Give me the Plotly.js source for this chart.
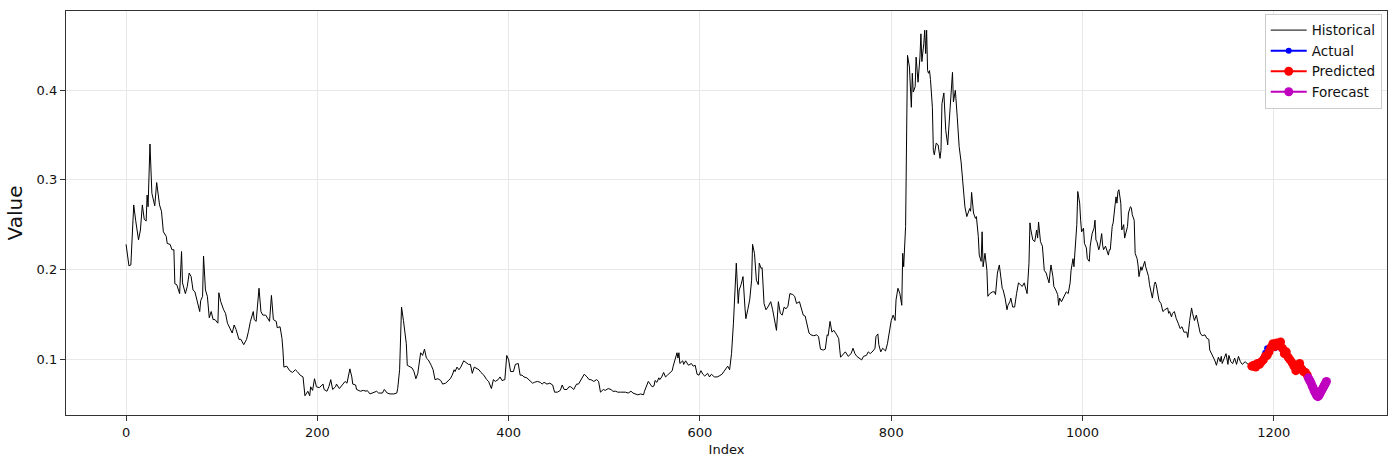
<!DOCTYPE html>
<html>
<head>
<meta charset="utf-8">
<script src="https://cdn.plot.ly/plotly-3.0.1.min.js"></script>
<style>html,body{margin:0;padding:0;background:#fff}#chart{width:1400px;height:474px}</style>
</head>
<body>
<div id="chart"></div>
<script>
var histIdx = [0,3,5,8,10,13,15,17,19,21,22,23,25,27,30,32,35,37,39,42,43,46,48,50,51,53,56,58,59,62,64,66,68,70,72,75,77,78,80,81,83,85,87,89,91,93,96,97,99,102,104,106,108,111,113,115,118,120,123,126,128,130,133,134,136,139,141,143,146,148,150,152,154,157,158,161,163,164,165,168,171,174,177,179,182,
185,186,187,190,192,193,195,197,199,202,206,207,210,212,214,216,219,220,223,226,229,231,234,236,237,240,241,245,248,251,252,255,258,262,264,268,270,273,276,280,283,284,286,287,288,290,293,294,297,299,301,303,305,307,308,310,312,314,316,319,321,323,326,329,331,334,336,339,341,343,344,346,348,350,353,356,358,360,362,364,366,369,371,374,377,379,382,384,386,389,391,393,396,398,400,402,405,407,410,412,
414,416,419,422,425,427,430,433,435,437,440,443,446,448,451,454,456,458,461,463,465,468,471,473,476,479,482,484,486,489,492,494,496,499,501,504,507,509,512,514,517,520,522,525,528,530,533,535,538,541,542,544,546,548,550,552,553,555,557,558,560,562,564,566,569,571,572,574,576,577,578,579,582,583,585,588,591,593,595,597,599,601,603,605,608,610,612,615,618,620,623,625,627,629,631,
633,635,638,640,641,643,645,647,648,650,652,654,655,657,659,661,662,664,665,667,669,671,674,676,678,680,682,684,686,688,690,692,694,697,699,701,704,706,708,710,712,714,716,719,722,724,726,729,731,733,734,736,738,740,743,745,747,750,752,755,758,760,762,764,767,769,771,774,776,778,781,783,784,786,787,789,791,794,796,798,800,802,804,805,807,809,811,812,813,815,816,817,819,820,821,822,823,825,826,828,829,830,831,832,834,835,836,837,838,839,840,841,843,844,845,847,849,851,852,853,855,857,859,861,863,864,865,867,869,871,873,
875,877,879,882,883,884,886,888,889,891,892,894,895,896,898,900,901,903,906,908,909,911,913,914,916,917,919,921,922,924,925,927,929,931,933,935,937,939,941,942,944,945,946,948,950,952,953,954,956,958,960,962,963,965,966,967,969,970,972,974,975,976,978,980,982,983,985,987,988,990,991,992,994,995,997,998,999,1001,1002,1004,1005,1007,1008,1010,1012,1013,1014,1015,1017,1018,1020,1021,1022,1024,1025,1027,1028,1029,1031,1032,1034,1035,1036,1037,1038,1040,1041,1043,1044,1045,1047,1048,1050,1051,1052,1054,1055,1057,1058,1059,1061,1062,1063,1065,1066,1068,1069,1070,1072,1073,1075,1076,1077,1079,1080,1082,1083,1084,1086,1089,1090,1091,1093,1094,1096,1097,1098,1100,1102,
1104,1106,1109,1110,1112,1114,1115,1117,1119,1121,1123,1125,1128,1130,1132,1133,1135,1138,1140,1142,1144,1145,1146,1148,1150,1152,1153,1155,1157,1159,1161,1163,1165,1167,1170,1172,1175,1177];
var histVal = [0.228,0.204,0.205,0.272,0.255,0.233,0.244,0.272,0.256,0.254,0.283,0.270,0.340,0.285,0.271,0.297,0.272,0.265,0.242,0.237,0.229,0.228,0.222,0.222,0.184,0.183,0.173,0.220,0.185,0.173,0.181,0.196,0.192,0.177,0.175,0.162,0.153,0.165,0.170,0.215,0.177,0.170,0.146,0.153,0.144,0.144,0.140,0.174,0.164,0.155,0.151,0.140,0.135,0.129,0.138,0.133,0.122,0.122,0.116,0.122,0.131,0.142,0.153,0.144,0.142,0.179,0.153,0.149,0.149,0.146,0.142,0.171,0.144,0.142,0.135,0.136,0.123,0.110,0.091,0.092,0.087,0.085,0.088,0.086,0.082,
0.080,0.069,0.059,0.064,0.059,0.069,0.065,0.078,0.069,0.068,0.072,0.066,0.064,0.069,0.077,0.066,0.069,0.072,0.067,0.071,0.075,0.073,0.089,0.080,0.072,0.071,0.066,0.064,0.065,0.064,0.065,0.061,0.062,0.064,0.062,0.062,0.066,0.062,0.061,0.061,0.062,0.067,0.088,0.117,0.158,0.143,0.117,0.093,0.091,0.090,0.086,0.078,0.084,0.099,0.107,0.104,0.111,0.101,0.099,0.093,0.088,0.077,0.078,0.076,0.072,0.073,0.075,0.078,0.082,0.088,0.086,0.091,0.088,0.091,0.098,0.096,0.094,0.094,0.084,0.091,0.090,0.088,0.085,0.082,0.077,0.075,0.067,0.077,0.075,0.077,0.080,0.076,0.077,0.104,0.099,0.086,0.086,0.094,0.095,0.082,
0.082,0.080,0.079,0.076,0.073,0.074,0.075,0.074,0.072,0.074,0.072,0.073,0.071,0.063,0.063,0.065,0.071,0.066,0.066,0.069,0.069,0.066,0.072,0.072,0.077,0.083,0.080,0.077,0.077,0.075,0.077,0.075,0.063,0.066,0.065,0.067,0.066,0.064,0.064,0.063,0.063,0.063,0.063,0.062,0.064,0.062,0.061,0.060,0.061,0.060,0.064,0.070,0.075,0.072,0.069,0.070,0.076,0.074,0.079,0.077,0.080,0.085,0.080,0.082,0.085,0.087,0.092,0.101,0.107,0.101,0.107,0.095,0.098,0.094,0.098,0.093,0.095,0.092,0.093,0.083,0.082,0.087,0.083,0.081,0.084,0.080,0.083,0.080,0.080,0.081,0.083,0.086,0.089,0.092,0.088,
0.106,0.140,0.207,0.162,0.177,0.183,0.192,0.158,0.145,0.155,0.166,0.188,0.228,0.218,0.188,0.183,0.207,0.201,0.202,0.162,0.155,0.158,0.164,0.155,0.143,0.132,0.164,0.151,0.149,0.158,0.156,0.159,0.173,0.172,0.170,0.162,0.164,0.156,0.149,0.148,0.138,0.129,0.127,0.126,0.127,0.125,0.111,0.110,0.111,0.127,0.126,0.142,0.130,0.132,0.127,0.123,0.102,0.106,0.108,0.103,0.106,0.112,0.106,0.103,0.101,0.099,0.103,0.104,0.108,0.106,0.109,0.112,0.125,0.128,0.116,0.108,0.112,0.109,0.117,0.129,0.143,0.149,0.143,0.166,0.179,0.173,0.160,0.218,0.203,0.248,0.367,0.439,0.426,0.400,0.381,0.419,0.398,0.404,0.437,0.409,0.422,0.437,0.463,0.432,0.452,0.467,0.441,0.467,0.422,0.419,0.422,0.412,0.381,0.333,0.328,0.341,0.339,0.324,0.333,0.385,0.397,0.355,0.339,0.370,0.393,0.420,0.387,0.400,0.370,0.337,0.320,
0.289,0.270,0.259,0.268,0.265,0.286,0.263,0.257,0.259,0.237,0.216,0.209,0.242,0.203,0.218,0.199,0.170,0.173,0.175,0.175,0.172,0.196,0.205,0.194,0.179,0.177,0.168,0.155,0.160,0.164,0.168,0.158,0.158,0.173,0.185,0.183,0.181,0.185,0.175,0.173,0.207,0.252,0.244,0.233,0.231,0.244,0.235,0.253,0.231,0.226,0.199,0.196,0.192,0.185,0.196,0.205,0.192,0.181,0.177,0.172,0.160,0.168,0.164,0.168,0.172,0.175,0.173,0.185,0.199,0.212,0.203,0.218,0.250,0.287,0.274,0.255,0.242,0.246,0.229,0.224,0.212,0.209,0.226,0.240,0.246,0.255,0.233,0.231,0.222,0.226,0.240,0.227,0.222,0.226,0.222,0.216,0.222,0.222,0.248,0.252,0.272,0.281,0.274,0.287,0.289,0.274,0.244,0.250,0.235,0.239,0.248,0.263,0.270,0.269,0.261,0.255,0.218,0.212,0.205,0.192,0.203,0.199,0.203,0.209,0.203,0.196,0.192,0.183,0.170,0.168,0.183,0.186,0.183,0.170,0.165,0.162,0.158,0.153,0.155,0.157,0.151,0.153,0.147,0.151,0.153,0.147,0.145,0.140,0.134,
0.136,0.130,0.130,0.124,0.143,0.157,0.151,0.143,0.149,0.138,0.129,0.126,0.127,0.123,0.122,0.110,0.106,0.099,0.093,0.102,0.097,0.103,0.095,0.100,0.106,0.094,0.104,0.097,0.095,0.101,0.094,0.103,0.097,0.094,0.097,0.095,0.093,0.092];

var testIdx = [1177,1179,1181,1183,1185,1187,1189,1191,1193,1195,1197,1199,1201,1203,1205,1207,1209,1211,1213,1215,1217,1219,1221,1223,1225,1227,1229,1231,1233,1235];
var actualVal = [0.093,0.092,0.094,0.096,0.095,0.098,0.101,0.107,0.112,0.110,0.113,0.115,0.112,0.116,0.113,0.114,0.110,0.108,0.105,0.103,0.100,0.097,0.094,0.093,0.092,0.093,0.090,0.088,0.086,0.083];
var predictedVal = [0.092,0.093,0.091,0.095,0.094,0.097,0.099,0.103,0.104,0.108,0.113,0.117,0.114,0.118,0.116,0.119,0.112,0.106,0.108,0.102,0.099,0.096,0.092,0.087,0.091,0.095,0.089,0.086,0.085,0.082];

var forecastIdx = [1236,1237,1238,1239,1240,1241,1242,1243,1244,1245,1246,1247,1248,1249,1250,1251,1252,1253,1254,1255];
var forecastVal = [0.079,0.077,0.075,0.073,0.070,0.068,0.065,0.063,0.061,0.059,0.058,0.059,0.061,0.063,0.065,0.067,0.069,0.071,0.073,0.075];

var xTicks = [0,200,400,600,800,1000,1200];
var yTicks = [0.1,0.2,0.3,0.4];

var traces = [
  {x: histIdx, y: histVal, type: 'scatter', mode: 'lines', name: 'Historical',
   line: {color: '#000000', width: 1}},
  {x: testIdx, y: actualVal, type: 'scatter', mode: 'lines+markers', name: 'Actual',
   line: {color: '#0000ff', width: 2}, marker: {color: '#0000ff', size: 6}},
  {x: testIdx, y: predictedVal, type: 'scatter', mode: 'lines+markers', name: 'Predicted',
   line: {color: '#ff0000', width: 2}, marker: {color: '#ff0000', size: 9}},
  {x: forecastIdx, y: forecastVal, type: 'scatter', mode: 'lines+markers', name: 'Forecast',
   line: {color: '#bf00bf', width: 2}, marker: {color: '#bf00bf', size: 9}}
];

var axisCommon = {
  showline: true, mirror: true, linecolor: '#333', linewidth: 1.2,
  ticks: 'outside', ticklen: 5, tickcolor: '#333', tickwidth: 1,
  showgrid: true, gridcolor: '#e8e8e8', gridwidth: 1, zeroline: false,
  tickfont: {size: 13, color: '#111'}
};

var layout = {
  width: 1400, height: 474,
  margin: {l: 66, r: 13, t: 11, b: 59},
  paper_bgcolor: '#ffffff', plot_bgcolor: '#ffffff',
  font: {family: 'DejaVu Sans, sans-serif', color: '#000'},
  showlegend: true,
  legend: {x: 0.996, xanchor: 'right', y: 0.993, yanchor: 'top',
           bgcolor: 'rgba(255,255,255,0.85)', bordercolor: '#cccccc', borderwidth: 1,
           font: {size: 13.5, color: '#111'}, itemwidth: 36, tracegroupgap: 0},
  xaxis: Object.assign({}, axisCommon, {
    range: [-62.8, 1318.3], tickvals: xTicks, ticktext: xTicks.map(String),
    title: {text: 'Index', font: {size: 13, color: '#111'}, standoff: 6}
  }),
  yaxis: Object.assign({}, axisCommon, {
    range: [0.0375, 0.4885], tickvals: yTicks, ticktext: yTicks.map(function(v){return v.toFixed(1);}),
    title: {text: 'Value', font: {size: 20, color: '#111'}, standoff: 8}
  })
};

Plotly.newPlot('chart', traces, layout, {displayModeBar: false, staticPlot: true});
</script>
</body>
</html>
